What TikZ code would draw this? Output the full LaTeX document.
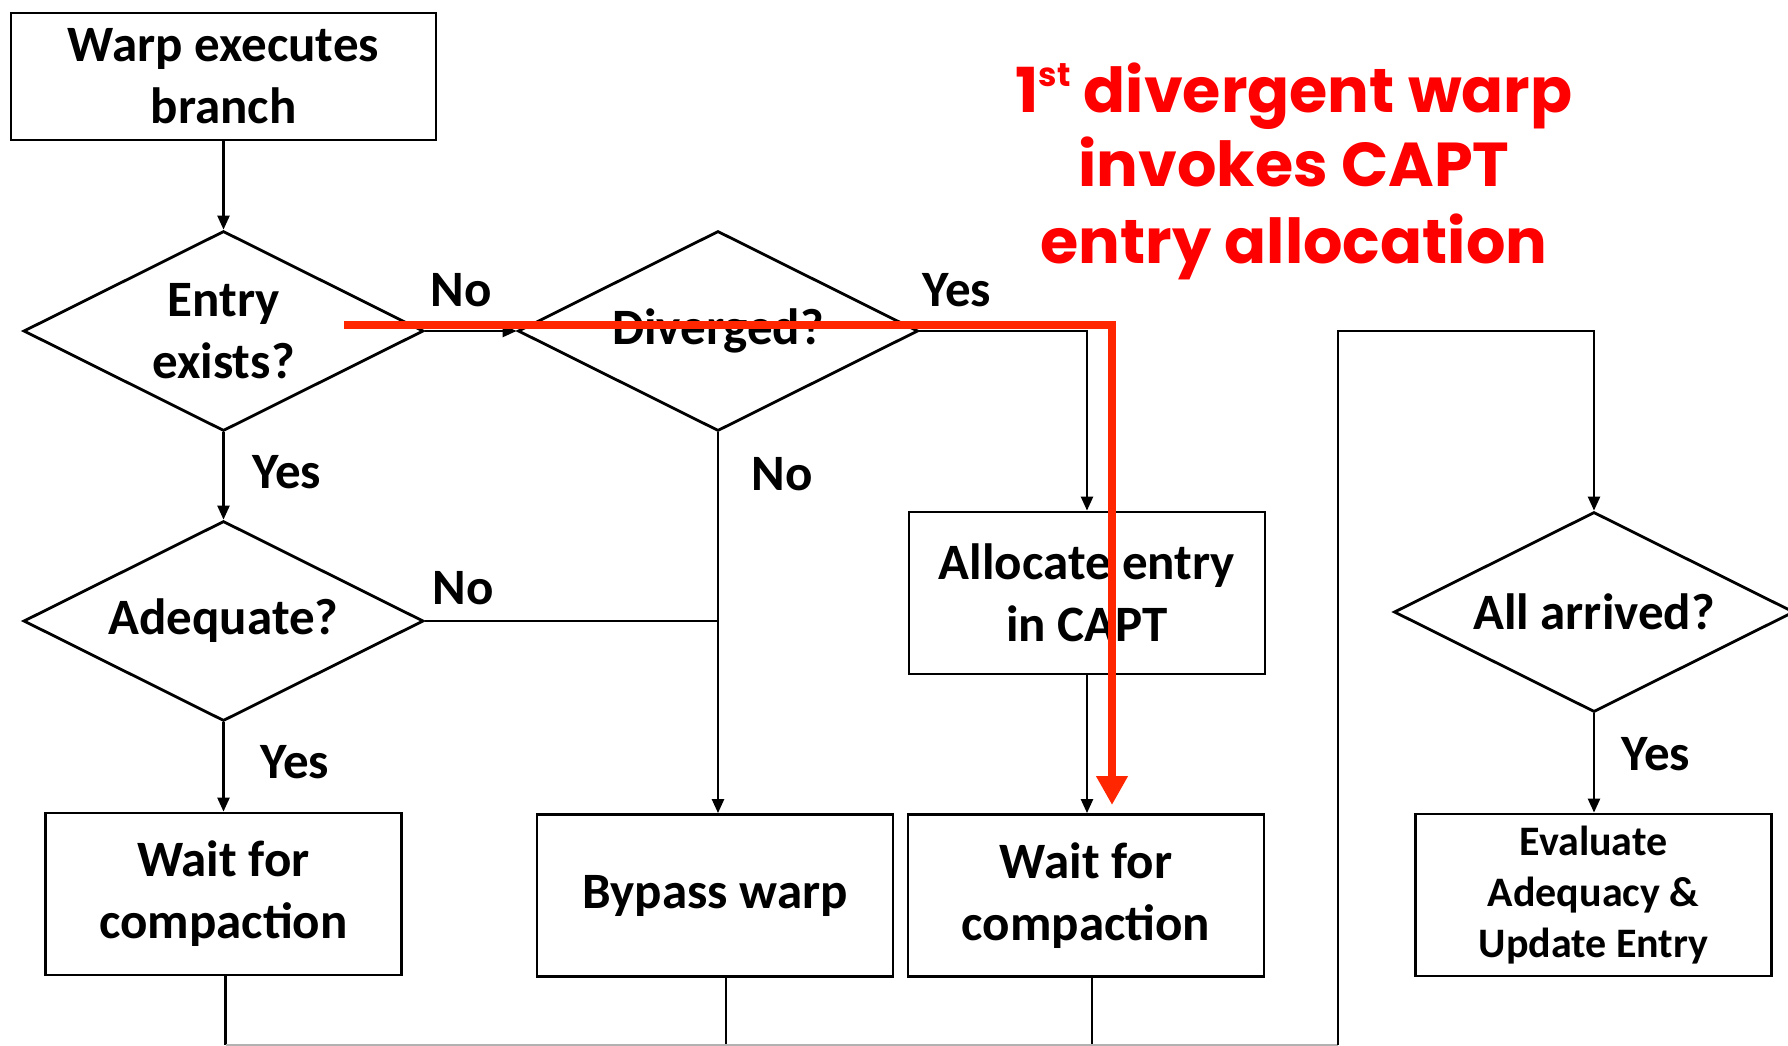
\documentclass[tikz,border=0pt]{standalone}
\usepackage{fontspec}
\setmainfont{Carlito}
\newfontfamily\notefont{Poppins}
\usetikzlibrary{shapes.geometric,arrows.meta}
\definecolor{notered}{RGB}{255,0,0}
\definecolor{pathred}{RGB}{255,38,0}

\begin{document}
\begin{tikzpicture}[x=1pt,y=-1pt,
  flowbox/.style={draw=black, line width=2.8pt, rectangle, inner sep=0pt, align=center,
    font=\fontsize{51}{62}\selectfont\bfseries, minimum width=356pt, minimum height=162pt},
  decision/.style={draw=black, line width=2.8pt, diamond, inner sep=0pt,
    minimum width=400pt, minimum height=200pt},
  dtext/.style={align=center, inner sep=0pt, font=\fontsize{51}{62}\selectfont\bfseries},
  link/.style={line width=2.4pt, -{Triangle[length=14pt,width=12pt]}},
  wire/.style={line width=2.4pt},
  lbl/.style={font=\fontsize{51}{60}\selectfont\bfseries},
  note/.style={anchor=base, text=notered, font=\notefont\bfseries\fontsize{62}{76}\selectfont},
]
% page
\fill[white] (0,0) rectangle (1788,1046);
\useasboundingbox (0,0) rectangle (1788,1046);

% boxes
\node[flowbox, minimum width=425pt, minimum height=127pt] (warp) at (223.5,76.5) {Warp executes\\branch};
\node[flowbox] (wait1) at (223.5,894) {Wait for\\compaction};
\node[flowbox] (bypass) at (715,895.5) {Bypass warp};
\node[flowbox] (alloc) at (1087,593) {Allocate entry\\in CAPT};
\node[flowbox] (wait2) at (1086,895.5) {Wait for\\compaction};
\node[flowbox, font=\fontsize{42}{51}\selectfont\bfseries] (eval) at (1593.5,895) {Evaluate\\Adequacy \&\\Update Entry};

% decisions: outline and question
\node[decision] (entry) at (223.5,331) {};
\node[dtext] (entryq) at (entry) {Entry\\exists?};
\node[decision] (diverged) at (718,331) {};
\node[dtext] (divergedq) at (diverged) {Diverged?};
\node[decision] (adequate) at (223.5,621) {};
\node[dtext] (adequateq) at (adequate) {Adequate?};
\node[decision] (arrived) at (1594,612) {};
\node[dtext] (arrivedq) at (arrived) {All arrived?};

% connectors
\draw[link] (warp) -- (entry);
\draw[link] (entry) -- (diverged);
\draw[link] (diverged.east) -| (alloc.north);
\draw[link] (alloc.south) -- (alloc.south |- wait2.north);
\draw[link] (entry) -- (adequate);
\draw[link] (adequate) -- (wait1);
\draw[link] (diverged.south) -- (diverged.south |- bypass.north);
\draw[wire] (adequate.east) -- (adequate.east -| diverged.south);
\draw[link] (arrived) -- (arrived.south |- eval.north);

% return bus along the bottom edge and back up to the barrier check
\coordinate (busleft) at (225.5,1045);
\coordinate (busright) at (1338,1045);
\coordinate (loopturn) at (1338,331);
\draw[wire] ([xshift=2pt]wait1.south) -- ([xshift=2pt]wait1.south |- busleft);
\draw[wire] ([xshift=11pt]bypass.south) -- ([xshift=11pt]bypass.south |- busleft);
\draw[wire] ([xshift=6pt]wait2.south) -- ([xshift=6pt]wait2.south |- busleft);
\draw[wire, gray!60] (busleft) -- (busright);
\draw[link] (busright) -- (loopturn) -| (arrived.north);

% branch labels
\node[lbl] (noa) at (461,290) {No};
\node[lbl] (yesa) at (957,290) {Yes};
\node[lbl] (yesb) at (287,472) {Yes};
\node[lbl] (nob) at (782,474) {No};
\node[lbl] (noc) at (463,588) {No};
\node[lbl] (yesc) at (295,762) {Yes};
\node[lbl] (yesd) at (1656,754) {Yes};

% highlighted path of the first divergent warp
\coordinate (redstart) at (344,325);
\coordinate (redend) at (1112,805);
\draw[pathred, line width=8pt, line join=miter,
  -{Triangle[length=29pt,width=30pt]}] (redstart) -| (redend);

\node[note] (note1) at (1294,113) {1\raisebox{0.42em}{\fontsize{33}{33}\selectfont st} divergent warp};
\node[note] (note2) at (1294,186) {invokes CAPT};
\node[note] (note3) at (1294,263) {entry allocation};
\end{tikzpicture}
\end{document}
